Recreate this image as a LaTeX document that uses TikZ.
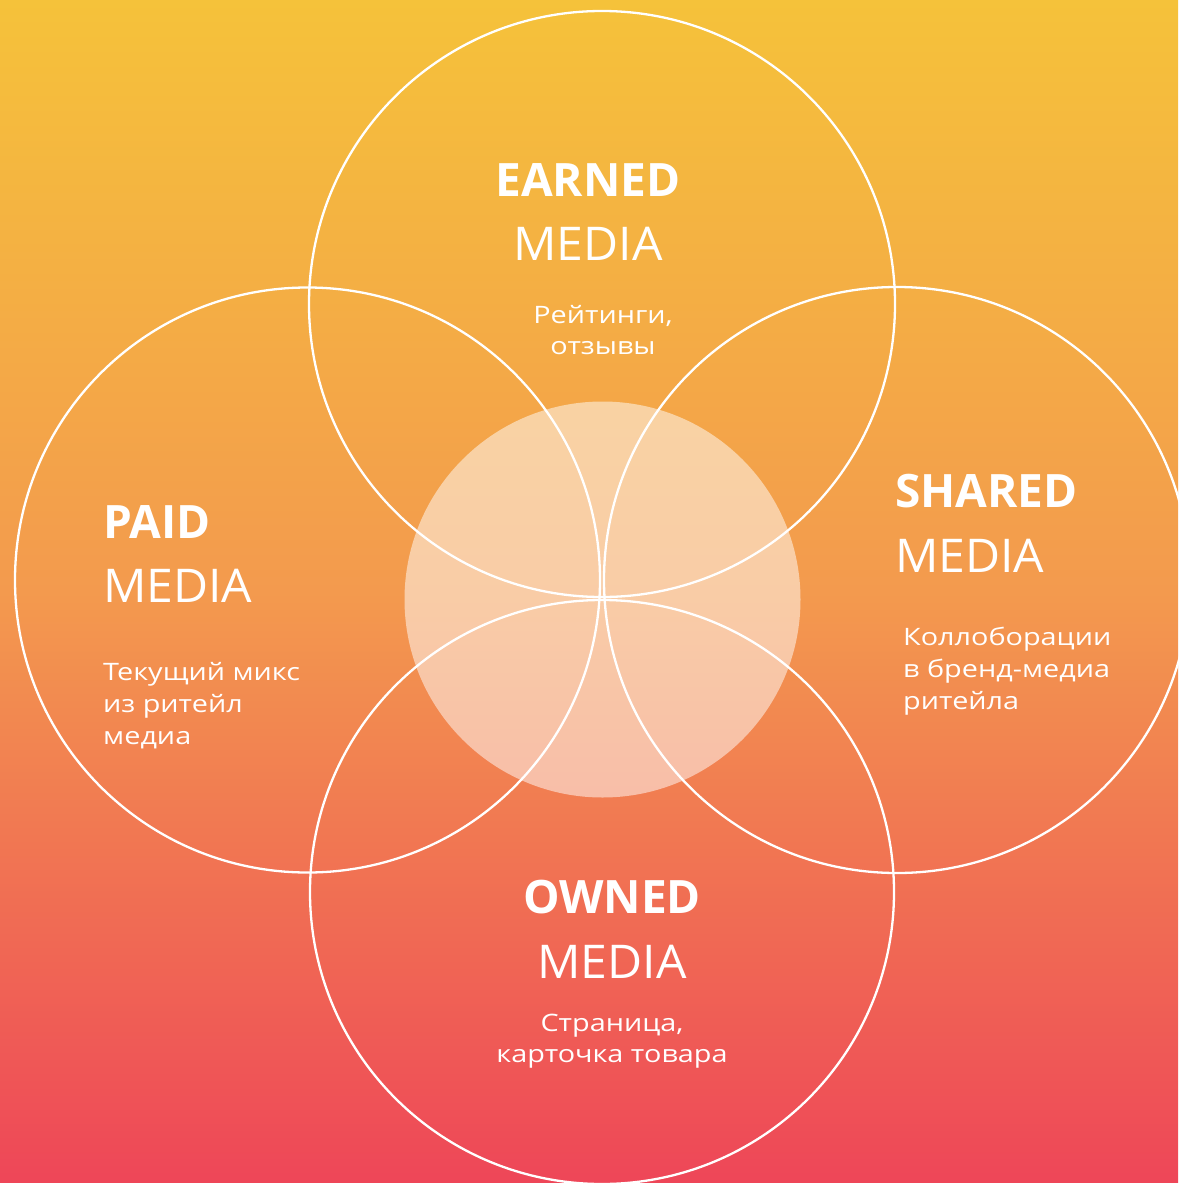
\documentclass[tikz,border=0pt]{standalone}
\usepackage{fontspec}
\setmainfont{Open Sans}
\newfontfamily\smallfont[FakeStretch=1.2]{Open Sans}
\newfontfamily\medfont[FakeStretch=1.035]{Open Sans}
\definecolor{bgtop}{RGB}{245,194,58}
\definecolor{bgmid}{RGB}{243,154,78}
\definecolor{bgbot}{RGB}{238,70,88}
\tikzset{
  ring/.style={draw=white, line width=2.3pt},
  head/.style={text=white, inner sep=0pt, font=\fontsize{46}{50}\selectfont\bfseries},
  sub/.style={text=white, inner sep=0pt, font=\medfont\fontsize{46.5}{50}\selectfont},
  note/.style={text=white, inner sep=0pt, font=\smallfont\fontsize{24}{32}\selectfont},
}
\begin{document}
\begin{tikzpicture}[x=1pt,y=-1pt]
\useasboundingbox (0,0) rectangle (1178,1183);
\shade[top color=bgtop, bottom color=bgbot, middle color=bgmid] (0,0) rectangle (1178,1183);
% central circle
\fill[white, fill opacity=0.5] (602.5,599.5) circle (198);
% rings
\draw[ring] (602,304) circle (293);
\draw[ring] (307.5,580) circle (292.5);
\draw[ring] (897,580) circle (293);
\draw[ring] (602,892) circle (292);
% EARNED
\node[head, anchor=base] (e1) at (588,196) {EARNED};
\node[sub, anchor=base] (e2) at (588,260) {MEDIA};
\node[note, anchor=base] (e3) at (603,323) {Рейтинги,};
\node[note, anchor=base] (e4) at (603,354) {отзывы};
% PAID
\node[head, anchor=base west] (p1) at (103,538) {PAID};
\node[sub, anchor=base west] (p2) at (103,602) {MEDIA};
\node[note, anchor=base west] (p3) at (103,680) {Текущий микс};
\node[note, anchor=base west] (p4) at (103,712) {из ритейл};
\node[note, anchor=base west] (p5) at (103,744) {медиа};
% SHARED
\node[head, anchor=base west] (s1) at (895,507) {SHARED};
\node[sub, anchor=base west] (s2) at (895,572) {MEDIA};
\node[note, anchor=base west] (s3) at (903,645) {Коллоборации};
\node[note, anchor=base west] (s4) at (903,677) {в бренд-медиа};
\node[note, anchor=base west] (s5) at (903,709) {ритейла};
% OWNED
\node[head, anchor=base] (o1) at (612,913) {OWNED};
\node[sub, anchor=base] (o2) at (612,978) {MEDIA};
\node[note, anchor=base] (o3) at (612,1031) {Страница,};
\node[note, anchor=base] (o4) at (612,1062) {карточка товара};
\end{tikzpicture}
\end{document}
